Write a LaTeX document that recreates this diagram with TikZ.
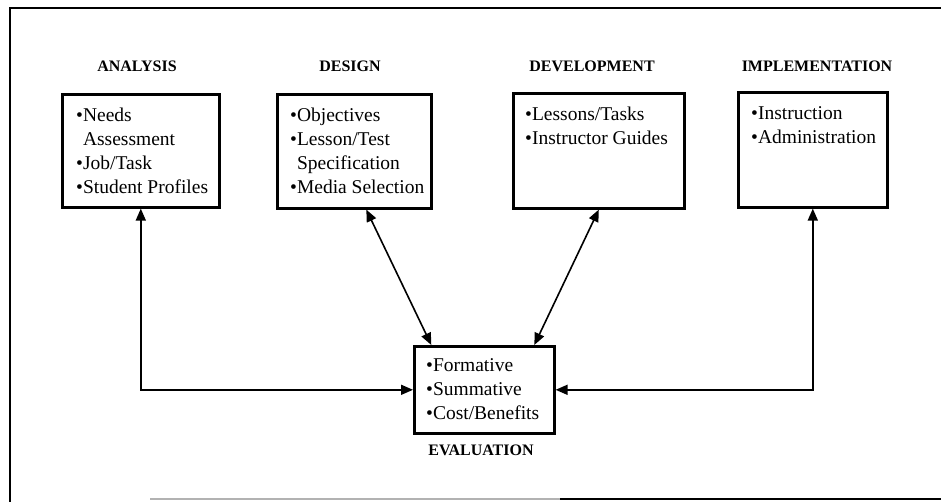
\documentclass[tikz,border=0pt]{standalone}
\usepackage{fontspec}
\setmainfont{Liberation Serif}
\usetikzlibrary{arrows.meta}
\begin{document}
\begin{tikzpicture}[x=1pt,y=-1pt,
  bx/.style={draw=black, line width=2.6pt, inner sep=0pt, anchor=north west},
  txt/.style={inner sep=0pt, anchor=north west, align=left, font=\fontsize{19.5}{24}\selectfont},
  lbl/.style={inner sep=0pt, font=\fontsize{16}{19}\selectfont\bfseries},
  conn/.style={line width=1.6pt, {Triangle[length=12pt,width=10pt]}-{Triangle[length=12pt,width=10pt]}},
  frm/.style={line width=2.6pt}
]
\useasboundingbox (0,0) rectangle (941,501);
% frame
\draw[frm] (945,8) -- (10,8) -- (10,503);
\draw[line width=1.2pt, gray!60] (150,499) -- (560,499);
\draw[line width=2pt] (560,499) -- (945,499);

% phase labels
\node[lbl] (l-ana) at (137,66) {ANALYSIS};
\node[lbl] (l-des) at (350,66) {DESIGN};
\node[lbl] (l-dev) at (592,66) {DEVELOPMENT};
\node[lbl] (l-imp) at (817,66) {IMPLEMENTATION};
\node[lbl] (l-eva) at (481,450) {EVALUATION};

% boxes
\node[bx, minimum width=157pt, minimum height=113pt] (ana) at (61,93) {};
\node[bx, minimum width=154pt, minimum height=114pt] (des) at (276,93) {};
\node[bx, minimum width=171pt, minimum height=115pt] (dev) at (512,92) {};
\node[bx, minimum width=149pt, minimum height=115pt] (imp) at (737,91) {};
\node[bx, minimum width=140pt, minimum height=87pt] (eva) at (413,345) {};

% box texts
\node[txt] (ana-t) at ([xshift=15pt,yshift=-11pt]ana.north west)
  {\rule{0pt}{17pt}•Needs\\\hphantom{•}Assessment\\•Job/Task\\•Student Profiles};
\node[txt] (des-t) at ([xshift=14pt,yshift=-11pt]des.north west)
  {\rule{0pt}{17pt}•Objectives\\•Lesson/Test\\\hphantom{•}Specification\\•Media Selection};
\node[txt] (dev-t) at ([xshift=13pt,yshift=-11pt]dev.north west)
  {\rule{0pt}{17pt}•Lessons/Tasks\\•Instructor Guides};
\node[txt] (imp-t) at ([xshift=14pt,yshift=-11pt]imp.north west)
  {\rule{0pt}{17pt}•Instruction\\•Administration};
\node[txt] (eva-t) at ([xshift=13pt,yshift=-9pt]eva.north west)
  {\rule{0pt}{17pt}•Formative\\•Summative\\•Cost/Benefits};

% connectors
\draw[conn] (ana.south) |- (eva.west);
\draw[conn] (imp.south) |- (eva.east);
\draw[conn] ([xshift=12pt]des.south) -- ([xshift=-53pt]eva.north);
\draw[conn] ([xshift=0pt]dev.south) -- ([xshift=50pt]eva.north);
\end{tikzpicture}
\end{document}
